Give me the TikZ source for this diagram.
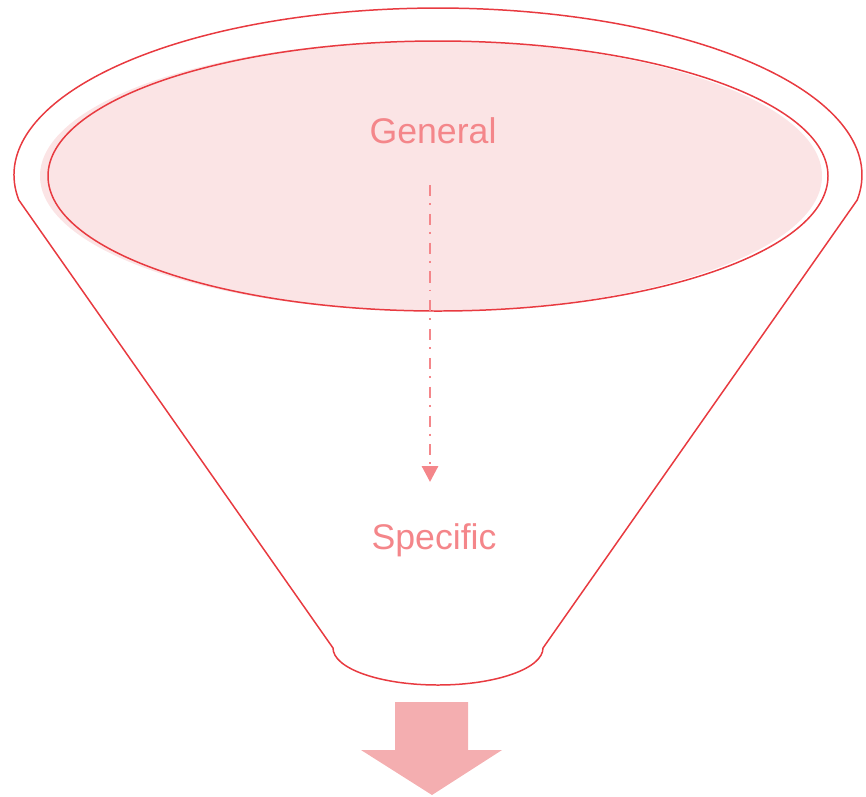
\documentclass[tikz,border=0pt]{standalone}
\usepackage{fontspec}
\setmainfont{Liberation Sans}
\usetikzlibrary{arrows.meta}
\definecolor{funnelred}{HTML}{E83A40}
\definecolor{funnelfill}{HTML}{FBE4E5}
\definecolor{labelpink}{HTML}{F4868A}
\definecolor{outpink}{HTML}{F4AEB0}

\begin{document}
\begin{tikzpicture}[
  x=0.02cm, y=0.02cm,
  every node/.style={font=\fontsize{20.3}{24}\selectfont},
  rim/.style={draw=funnelred, line width=0.85pt},
  label/.style={text=labelpink, inner sep=0pt},
  flow/.style={draw=labelpink, line width=1.7pt,
    dash pattern=on 6.3pt off 4pt on 1.1pt off 5pt,
    -{Triangle[width=9pt,length=9pt]}},
  outlet/.style={fill=outpink, draw=none},
]
\useasboundingbox (0,0) rectangle (866,-796);

% funnel body
\draw[rim, line join=round] (18.8,-200)
  arc[start angle=188.6, end angle=-8.6, x radius=424, y radius=167]
  -- (543,-648)
  arc[start angle=0, end angle=-180, x radius=105, y radius=37]
  -- cycle;

% mouth of the funnel
\fill[funnelfill] (431,-176) ellipse[x radius=391, y radius=135];
\draw[rim] (438,-176) ellipse[x radius=390, y radius=135];

\node[label] at (433,-131) (general)  {General};
\node[label] at (434,-540) (specific) {Specific};

\coordinate (flowtop) at (430,-185);
\coordinate (flowend) at (430,-482);
\draw[flow] (flowtop) -- (flowend);

% outlet arrow
\fill[outlet] (395,-702) -- (468,-702) -- (468,-750) -- (502,-750)
  -- (432,-795) -- (361,-750) -- (395,-750) -- cycle;
\end{tikzpicture}
\end{document}
